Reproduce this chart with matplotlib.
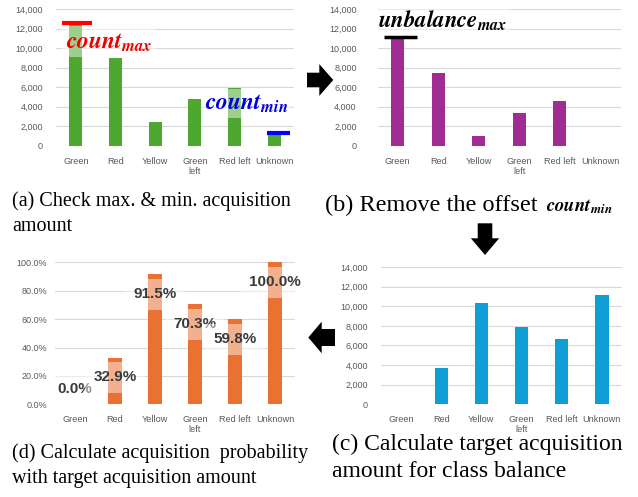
import matplotlib
matplotlib.use("Agg")
import matplotlib.pyplot as plt
from matplotlib.patches import FancyArrow

# values
categories = ["Green", "Red", "Yellow", "Green\nleft", "Red left", "Unknown"]
acquired = [12600, 9000, 2400, 4800, 5950, 1350]        # (a)
offset_removed = [11200, 7500, 950, 3350, 4550, 0]      # (b)
target = [0, 3670, 10300, 7880, 6700, 11150]            # (c)
probability = [0.0, 32.9, 91.5, 70.3, 59.8, 100.0]      # (d) in %

count_max = max(acquired)
count_min = min(acquired)
unbalance_max = max(offset_removed)
i_max = acquired.index(count_max)
i_min = acquired.index(count_min)

plt.rcParams["mathtext.fontset"] = "stix"
tick_font = ["Liberation Sans", "DejaVu Sans"]
serif_font = ["Liberation Serif", "DejaVu Serif"]

W, H = 638, 497
fig = plt.figure(figsize=(W / 100, H / 100), dpi=100)


def px_axes(left, top, right, bottom):
    return fig.add_axes([left / W, 1 - bottom / H, (right - left) / W, (bottom - top) / H])


def draw_bars(ax, values, color, ymax, step, pad, fmt):
    x = range(len(categories))
    ax.bar(x, values, width=0.33, color=color, zorder=2)
    ax.set_xlim(-0.5, len(categories) - 0.5)
    ax.set_ylim(0, ymax)
    ticks = [step * k for k in range(int(round(ymax / step)) + 1)]
    ax.set_yticks(ticks)
    ax.set_yticklabels([fmt(t) for t in ticks], family=tick_font, fontsize=6.5, color="#595959")
    ax.set_xticks(list(x))
    ax.set_xticklabels(categories, family=tick_font, fontsize=6.6, color="#595959", linespacing=1.1)
    ax.tick_params(length=0)
    ax.tick_params(axis="y", pad=pad)
    ax.tick_params(axis="x", pad=8)
    ax.set_axisbelow(True)
    ax.yaxis.grid(True, color="#d9d9d9", lw=0.8)
    for s in ax.spines.values():
        s.set_visible(False)


def light_box(pad):
    return dict(boxstyle=f"square,pad={pad}", fc="white", ec="none", alpha=0.45)


count_fmt = lambda v: f"{v:,.0f}"

# (a) raw acquisition amount
ax_a = px_axes(56, 9.3, 294, 145.7)
draw_bars(ax_a, acquired, "#4ea72e", 14000, 2000, 9.4, count_fmt)
ax_a.hlines(count_max, i_max - 0.35, i_max + 0.42, color="#ff0000", lw=3, zorder=4)
ax_a.hlines(count_min, i_min - 0.18, i_min + 0.4, color="#0000ff", lw=3, zorder=4)
ax_a.text(i_max - 0.25, count_max - 2600, r"$\mathbfit{count}_{\mathbfit{max}}$",
          color="#ee0000", fontsize=17, va="baseline", bbox=light_box(0.15), zorder=3)
ax_a.text(i_min - 1.75, count_min + 2300, r"$\mathbfit{count}_{\mathbfit{min}}$",
          color="#0000dd", fontsize=17, va="baseline", bbox=light_box(0.12), zorder=3)

# (b) offset removed
ax_b = px_axes(377.5, 9.3, 620.5, 145.7)
draw_bars(ax_b, offset_removed, "#a02b93", 14000, 2000, 15, count_fmt)
ax_b.hlines(unbalance_max, -0.34, 0.475, color="black", lw=2.5, zorder=4)
ax_b.text(-0.5, unbalance_max + 1000, r"$\mathbfit{unbalance}_{\mathbfit{max}}$",
          color="black", fontsize=16.5, va="baseline", bbox=light_box(0.1), zorder=3)

# (c) target acquisition amount
ax_c = px_axes(381, 267, 622, 404.3)
draw_bars(ax_c, target, "#0f9ed5", 14000, 2000, 9.4, count_fmt)

# (d) acquisition probability
ax_d = px_axes(55, 262.3, 295, 404.3)
draw_bars(ax_d, probability, "#e97132", 100, 20, 5.8, lambda v: f"{v:.1f}%")
for i, p in enumerate(probability):
    ax_d.text(i, max(p - 14, 11), f"{p:.1f}%", ha="center", va="center", fontsize=11,
              fontweight="bold", color="#3a3a3a", family=tick_font,
              bbox=light_box(0.55), zorder=3)

# overlay in pixel coordinates for captions and arrows
ov = fig.add_axes([0, 0, 1, 1], zorder=10)
ov.set_xlim(0, W)
ov.set_ylim(H, 0)
ov.axis("off")
ov.patch.set_alpha(0)

cap_l = dict(family=serif_font, fontsize=14.5, va="baseline", ha="left")
cap_r = dict(family=serif_font, fontsize=17, va="baseline", ha="left")
ov.text(12, 206, "(a) Check max. & min. acquisition", **cap_l)
ov.text(12, 231, "amount", **cap_l)
ov.text(325, 211, "(b) Remove the offset", family=serif_font, fontsize=17.5,
        va="baseline", ha="left")
ov.text(546, 211, r"$\mathbfit{count}_{\mathbfit{min}}$", fontsize=13.5, va="baseline", ha="left")
ov.text(332, 450, "(c) Calculate target acquisition", **cap_r)
ov.text(332, 477, "amount for class balance", **cap_r)
ov.text(12, 458, "(d) Calculate acquisition  probability", **cap_l)
ov.text(12, 483, "with target acquisition amount", **cap_l)

ov.add_patch(FancyArrow(307, 80, 26.3, 0, width=14.6, head_width=31.7, head_length=14,
                        length_includes_head=True, color="black", lw=0))
ov.add_patch(FancyArrow(485, 223.3, 0, 31.7, width=14.6, head_width=28.3, head_length=16.7,
                        length_includes_head=True, color="black", lw=0))
ov.add_patch(FancyArrow(335, 337.5, -26.7, 0, width=17, head_width=31.6, head_length=13.4,
                        length_includes_head=True, color="black", lw=0))

fig.savefig("out.png", dpi=100)
